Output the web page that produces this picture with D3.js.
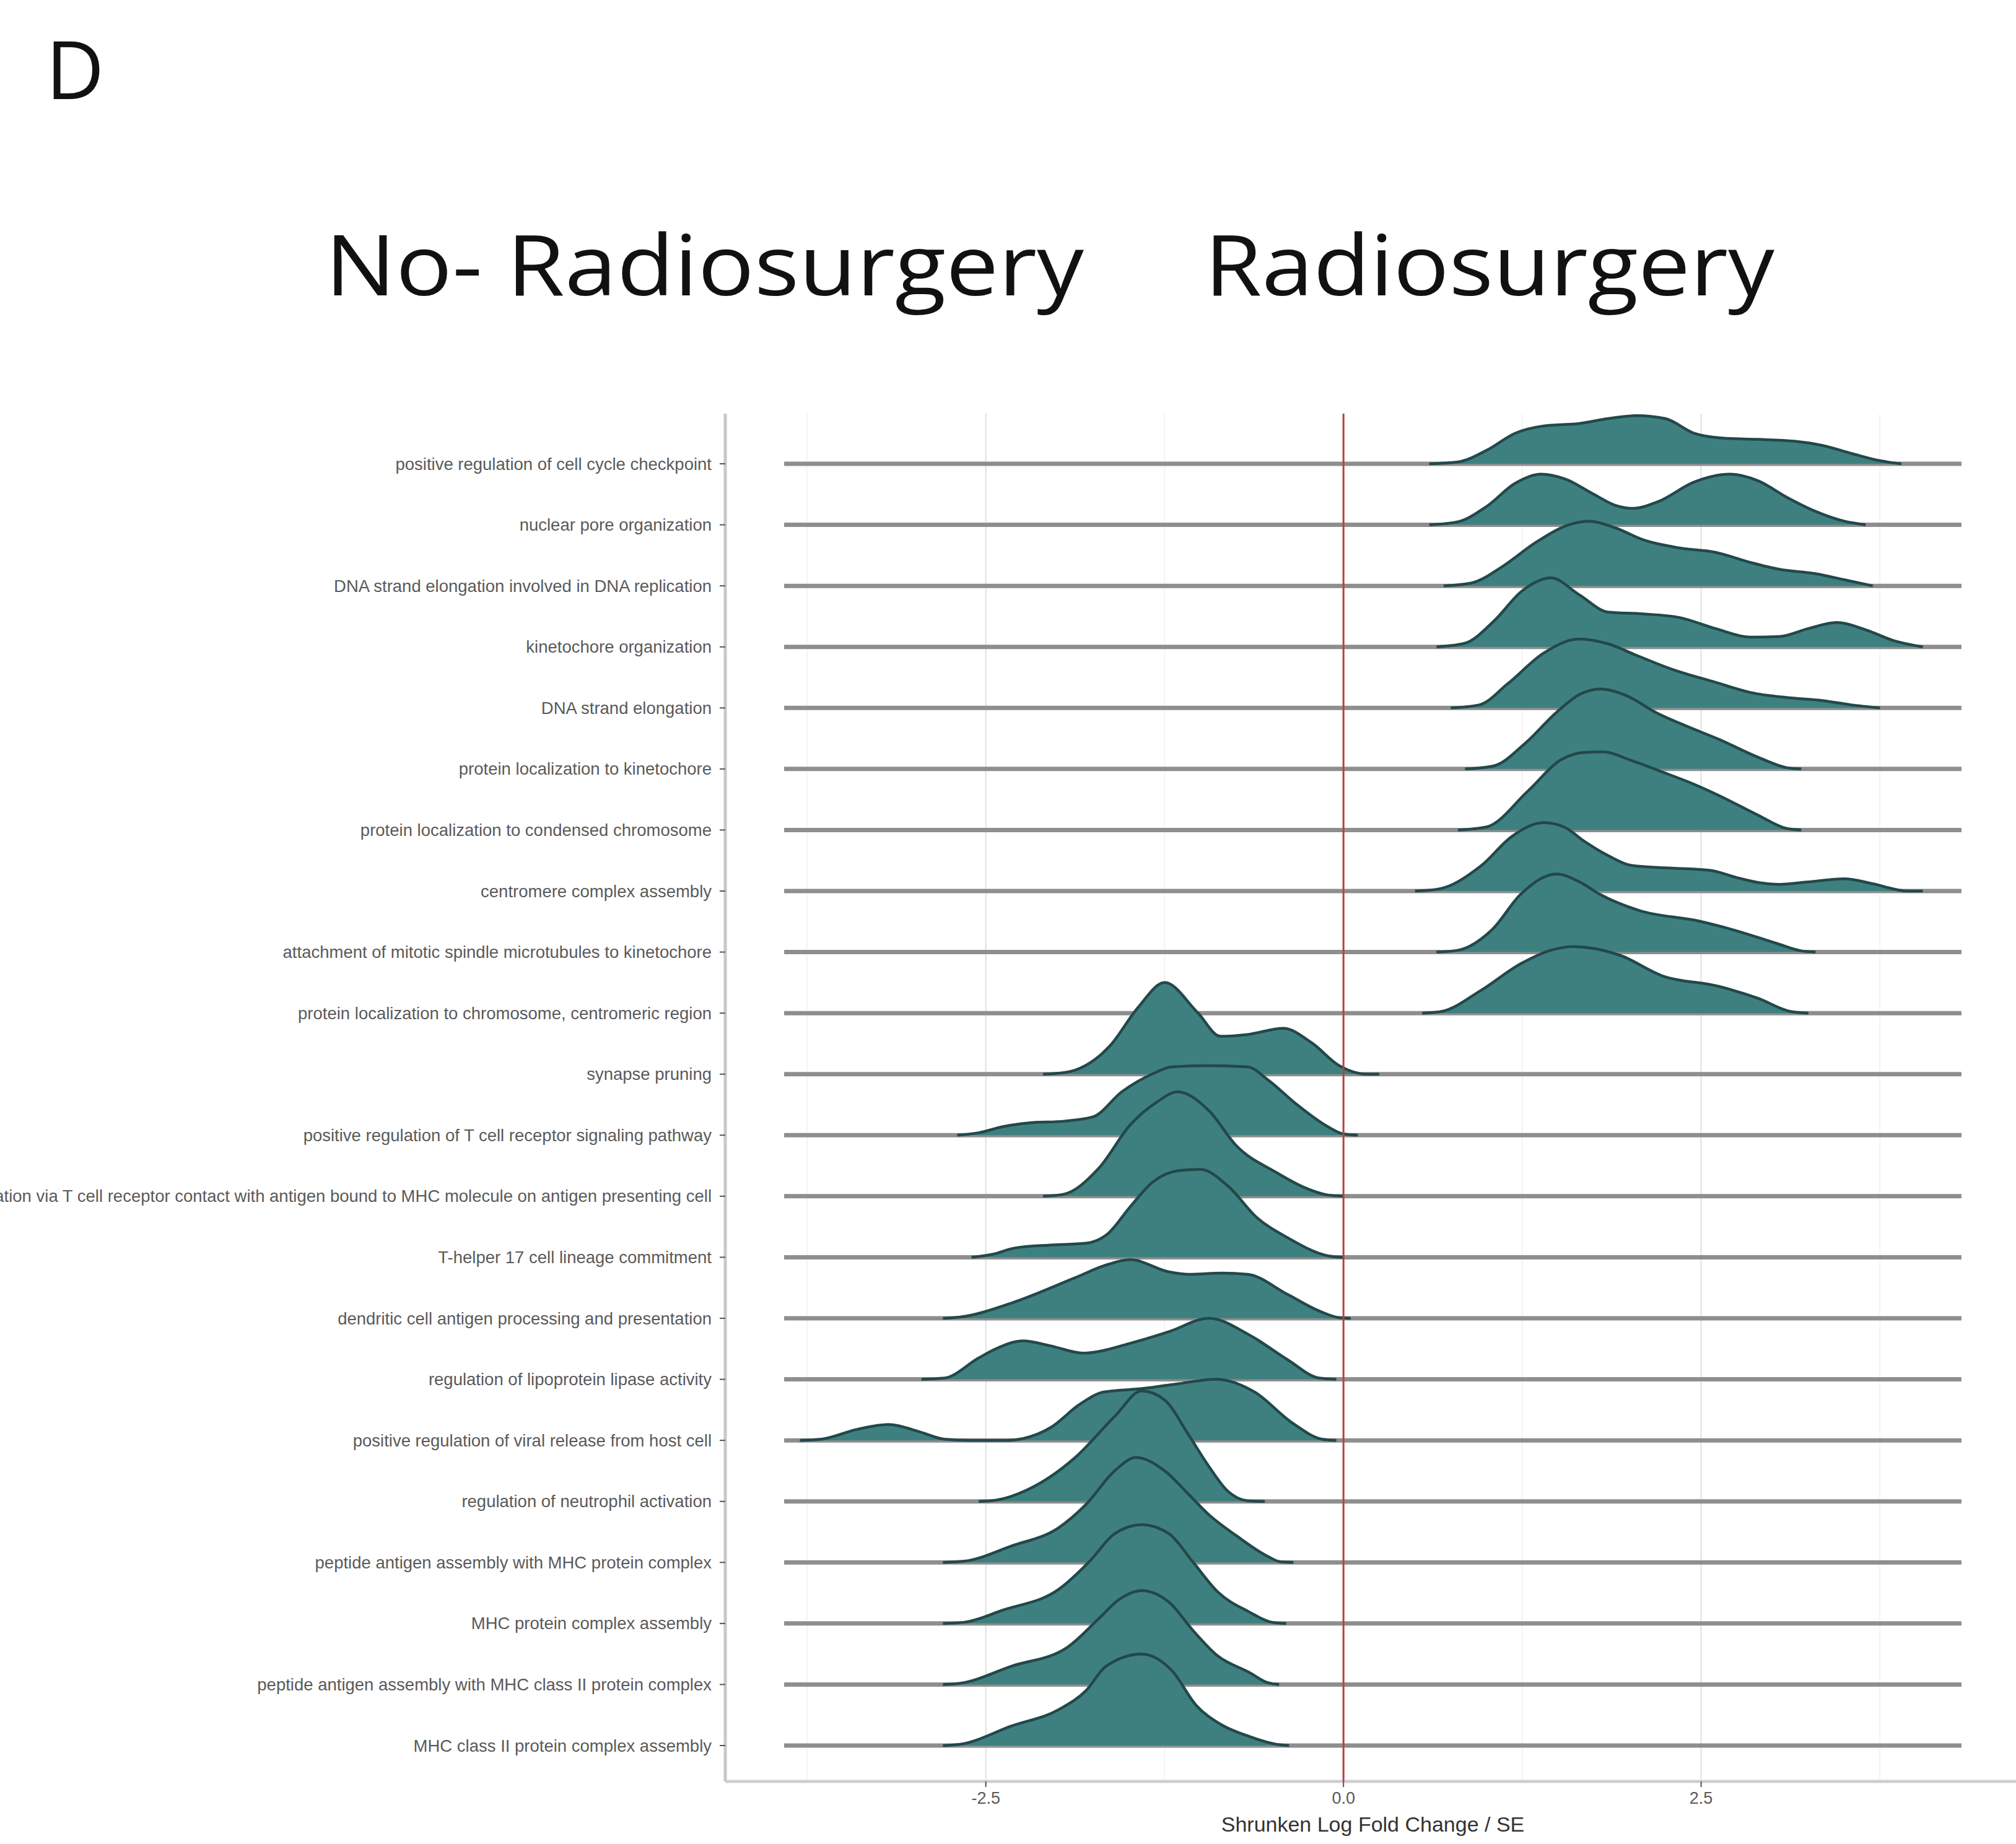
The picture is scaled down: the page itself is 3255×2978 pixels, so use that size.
<!DOCTYPE html>
<meta charset="utf-8">
<div id="chart"></div>
<style>
body { margin: 0; background: #fff; }
</style>
<script src="https://d3js.org/d3.v7.min.js"></script>
<script>
// GO terms, top to bottom
var terms = [
  "positive regulation of cell cycle checkpoint",
  "nuclear pore organization",
  "DNA strand elongation involved in DNA replication",
  "kinetochore organization",
  "DNA strand elongation",
  "protein localization to kinetochore",
  "protein localization to condensed chromosome",
  "centromere complex assembly",
  "attachment of mitotic spindle microtubules to kinetochore",
  "protein localization to chromosome, centromeric region",
  "synapse pruning",
  "positive regulation of T cell receptor signaling pathway",
  "T cell activation via T cell receptor contact with antigen bound to MHC molecule on antigen presenting cell",
  "T-helper 17 cell lineage commitment",
  "dendritic cell antigen processing and presentation",
  "regulation of lipoprotein lipase activity",
  "positive regulation of viral release from host cell",
  "regulation of neutrophil activation",
  "peptide antigen assembly with MHC protein complex",
  "MHC protein complex assembly",
  "peptide antigen assembly with MHC class II protein complex",
  "MHC class II protein complex assembly"
];

// ridge profiles: [x, height in row units]
var densities = [
  [[0.6,0],[0.8,0.03],[1.0,0.22],[1.2,0.5],[1.4,0.62],[1.65,0.66],[1.85,0.74],[2.05,0.79],[2.25,0.74],[2.45,0.5],[2.65,0.42],[2.9,0.4],[3.15,0.37],[3.35,0.3],[3.55,0.17],[3.75,0.05],[3.9,0]],
  [[0.6,0],[0.8,0.05],[1.0,0.3],[1.2,0.68],[1.38,0.83],[1.55,0.75],[1.75,0.5],[1.9,0.32],[2.02,0.27],[2.2,0.38],[2.45,0.7],[2.7,0.83],[2.9,0.72],[3.1,0.45],[3.3,0.22],[3.5,0.06],[3.65,0]],
  [[0.7,0],[0.9,0.05],[1.1,0.3],[1.35,0.72],[1.55,0.98],[1.72,1.06],[1.9,0.95],[2.1,0.75],[2.35,0.62],[2.6,0.55],[2.85,0.38],[3.05,0.27],[3.3,0.2],[3.5,0.1],[3.7,0]],
  [[0.65,0],[0.85,0.06],[1.05,0.42],[1.25,0.92],[1.45,1.13],[1.65,0.85],[1.85,0.57],[2.1,0.54],[2.35,0.48],[2.6,0.3],[2.85,0.16],[3.05,0.17],[3.25,0.3],[3.45,0.4],[3.65,0.28],[3.85,0.1],[4.05,0]],
  [[0.75,0],[0.95,0.05],[1.15,0.4],[1.4,0.9],[1.65,1.13],[1.85,1.05],[2.05,0.86],[2.3,0.63],[2.6,0.42],[2.85,0.25],[3.1,0.17],[3.35,0.12],[3.55,0.05],[3.75,0]],
  [[0.85,0],[1.05,0.05],[1.27,0.42],[1.49,0.93],[1.65,1.22],[1.8,1.31],[1.98,1.2],[2.18,0.93],[2.4,0.7],[2.62,0.49],[2.9,0.19],[3.1,0.02],[3.2,0]],
  [[0.8,0],[1.0,0.05],[1.29,0.64],[1.52,1.15],[1.68,1.27],[1.82,1.28],[2.0,1.15],[2.23,0.95],[2.45,0.75],[2.62,0.57],[2.9,0.24],[3.09,0.03],[3.2,0]],
  [[0.5,0],[0.66,0.03],[0.96,0.41],[1.18,0.9],[1.4,1.12],[1.55,1.04],[1.68,0.82],[1.85,0.58],[2.01,0.42],[2.25,0.38],[2.56,0.34],[2.75,0.22],[2.9,0.14],[3.05,0.11],[3.25,0.15],[3.5,0.2],[3.7,0.12],[3.94,0],[4.05,0]],
  [[0.65,0],[0.8,0.03],[1.04,0.37],[1.24,0.95],[1.49,1.28],[1.65,1.15],[1.79,0.95],[2.07,0.68],[2.48,0.51],[2.76,0.34],[3.03,0.14],[3.2,0.02],[3.3,0]],
  [[0.55,0],[0.69,0.03],[0.96,0.37],[1.24,0.81],[1.45,1.03],[1.6,1.09],[1.93,0.95],[2.23,0.61],[2.62,0.44],[2.9,0.24],[3.12,0.03],[3.25,0]],
  [[-2.1,0],[-1.94,0.03],[-1.63,0.47],[-1.44,1.08],[-1.25,1.5],[-1.02,1.01],[-0.86,0.62],[-0.67,0.65],[-0.42,0.75],[-0.22,0.51],[-0.03,0.14],[0.16,0],[0.25,0]],
  [[-2.7,0],[-2.55,0.04],[-2.38,0.14],[-2.2,0.2],[-1.95,0.23],[-1.75,0.3],[-1.55,0.71],[-1.33,1.01],[-1.2,1.12],[-0.95,1.14],[-0.67,1.12],[-0.53,0.91],[-0.33,0.51],[-0.11,0.14],[0.0,0.02],[0.1,0]],
  [[-2.1,0],[-1.96,0.03],[-1.71,0.46],[-1.49,1.17],[-1.3,1.55],[-1.16,1.71],[-0.94,1.4],[-0.75,0.83],[-0.47,0.39],[-0.28,0.15],[-0.11,0.02],[0,0]],
  [[-2.6,0],[-2.45,0.05],[-2.3,0.15],[-2.05,0.2],[-1.8,0.23],[-1.65,0.38],[-1.49,0.83],[-1.33,1.24],[-1.15,1.42],[-1.0,1.44],[-0.8,1.15],[-0.61,0.66],[-0.39,0.32],[-0.1,0.02],[0.0,0]],
  [[-2.8,0],[-2.68,0.02],[-2.32,0.25],[-1.88,0.66],[-1.65,0.88],[-1.49,0.96],[-1.22,0.76],[-1.08,0.72],[-0.85,0.74],[-0.67,0.72],[-0.39,0.39],[-0.17,0.12],[-0.03,0.01],[0.05,0]],
  [[-2.95,0],[-2.79,0.02],[-2.55,0.35],[-2.43,0.5],[-2.24,0.63],[-2.05,0.55],[-1.82,0.43],[-1.49,0.59],[-1.22,0.78],[-0.94,1.0],[-0.66,0.73],[-0.39,0.32],[-0.17,0.02],[-0.05,0]],
  [[-3.8,0],[-3.65,0.02],[-3.4,0.18],[-3.18,0.26],[-2.95,0.13],[-2.79,0.02],[-2.6,0],[-2.35,0],[-2.24,0.03],[-2.04,0.22],[-1.85,0.58],[-1.68,0.79],[-1.4,0.85],[-1.15,0.93],[-0.89,1.0],[-0.62,0.79],[-0.36,0.29],[-0.15,0.02],[-0.05,0]],
  [[-2.55,0],[-2.43,0.02],[-2.21,0.19],[-1.88,0.71],[-1.6,1.39],[-1.41,1.81],[-1.25,1.66],[-1.08,1.08],[-0.94,0.57],[-0.81,0.17],[-0.67,0.01],[-0.55,0]],
  [[-2.8,0],[-2.65,0.02],[-2.32,0.27],[-1.99,0.57],[-1.8,0.95],[-1.6,1.5],[-1.45,1.72],[-1.25,1.5],[-1.08,1.11],[-0.94,0.78],[-0.75,0.44],[-0.53,0.1],[-0.44,0.01],[-0.35,0]],
  [[-2.8,0],[-2.65,0.02],[-2.38,0.22],[-1.99,0.56],[-1.77,1.03],[-1.6,1.47],[-1.41,1.62],[-1.22,1.47],[-1.05,1.0],[-0.88,0.52],[-0.66,0.19],[-0.5,0.02],[-0.4,0]],
  [[-2.8,0],[-2.68,0.02],[-2.32,0.3],[-1.93,0.61],[-1.71,1.08],[-1.57,1.39],[-1.41,1.54],[-1.22,1.35],[-1.05,0.88],[-0.88,0.47],[-0.66,0.2],[-0.53,0.03],[-0.45,0]],
  [[-2.8,0],[-2.68,0.02],[-2.32,0.32],[-1.99,0.59],[-1.8,0.9],[-1.66,1.3],[-1.41,1.5],[-1.2,1.23],[-1.03,0.66],[-0.86,0.35],[-0.66,0.15],[-0.47,0.02],[-0.38,0]]
];

var dataRange = [-3.91, 4.32];
var xTicks = [-2.5, 0, 2.5];
var xTickLabels = ["-2.5", "0.0", "2.5"];
var xMinor = [-3.75, -1.25, 1.25, 3.75];
var groupTitles = ["No- Radiosurgery", "Radiosurgery"];

var W = 3255, H = 2978;
var panel = {left: 1171, right: 3262, top: 668, bottom: 2877};
var fillColor = "#3e8080";

var svg = d3.select("#chart")
  .append("svg")
    .attr("width", W)
    .attr("height", H)
    .style("display", "block");

svg.append("rect").attr("width", W).attr("height", H).attr("fill", "#fff");

var pad = (dataRange[1] - dataRange[0]) * 0.05;
var x = d3.scaleLinear()
  .domain([dataRange[0] - pad, dataRange[1] + pad])
  .range([panel.left, panel.right]);

var y = d3.scalePoint()
  .domain(terms)
  .range([749, 2819]);

var h = d3.scaleLinear()
  .domain([0, 1])
  .range([0, y.step()]);

// grid
svg.selectAll(".minor").data(xMinor).enter().append("line")
  .attr("x1", x).attr("x2", x)
  .attr("y1", panel.top).attr("y2", panel.bottom)
  .attr("stroke", "#f0f0f0").attr("stroke-width", 1.5);
svg.selectAll(".major").data(xTicks).enter().append("line")
  .attr("x1", x).attr("x2", x)
  .attr("y1", panel.top).attr("y2", panel.bottom)
  .attr("stroke", "#e6e6e6").attr("stroke-width", 2.5);

// axis lines
svg.append("line")
  .attr("x1", panel.left).attr("x2", panel.left)
  .attr("y1", panel.top).attr("y2", panel.bottom)
  .attr("stroke", "#c8c8c8").attr("stroke-width", 5);
svg.append("line")
  .attr("x1", panel.left).attr("x2", W)
  .attr("y1", panel.bottom).attr("y2", panel.bottom)
  .attr("stroke", "#cfcfcf").attr("stroke-width", 5);

// ridges, drawn top to bottom so lower rows overlap upper ones
terms.forEach(function(t, i) {
  var base = y(t);
  var g = svg.append("g").attr("class", "ridge");

  g.append("line")
    .attr("x1", x(dataRange[0])).attr("x2", x(dataRange[1]))
    .attr("y1", base).attr("y2", base)
    .attr("stroke", "#8e8e8e").attr("stroke-width", 7);

  var area = d3.area()
    .x(function(d) { return x(d[0]); })
    .y0(base)
    .y1(function(d) { return base - h(d[1]); })
    .curve(d3.curveMonotoneX);

  var line = d3.line()
    .x(function(d) { return x(d[0]); })
    .y(function(d) { return base - h(d[1]); })
    .curve(d3.curveMonotoneX);

  g.append("path")
    .attr("d", area(densities[i]))
    .attr("fill", fillColor);

  g.append("path")
    .attr("d", line(densities[i]))
    .attr("fill", "none")
    .attr("stroke", "#23484a")
    .attr("stroke-width", 4.5)
    .attr("stroke-linejoin", "round");
});

// zero line
svg.append("line")
  .attr("x1", x(0)).attr("x2", x(0))
  .attr("y1", panel.top).attr("y2", panel.bottom)
  .attr("stroke", "#b3423f").attr("stroke-width", 3);

// y axis ticks + labels
svg.selectAll(".ytick").data(terms).enter().append("line")
  .attr("x1", panel.left - 9).attr("x2", panel.left)
  .attr("y1", y).attr("y2", y)
  .attr("stroke", "#555").attr("stroke-width", 2);

svg.selectAll(".ylab").data(terms).enter().append("text")
  .attr("x", panel.left - 22)
  .attr("y", y)
  .attr("text-anchor", "end")
  .attr("dominant-baseline", "central")
  .style("font-family", "'Liberation Sans', Arial, sans-serif")
  .style("font-size", "27.5px")
  .style("fill", "#5a5a5a")
  .text(function(d) { return d; });

// x axis
svg.selectAll(".xtick").data(xTicks).enter().append("line")
  .attr("x1", x).attr("x2", x)
  .attr("y1", panel.bottom).attr("y2", panel.bottom + 9)
  .attr("stroke", "#555").attr("stroke-width", 2);

svg.selectAll(".xlab").data(xTicks).enter().append("text")
  .attr("x", x)
  .attr("y", panel.bottom + 27)
  .attr("text-anchor", "middle")
  .attr("dominant-baseline", "central")
  .style("font-family", "'Liberation Sans', Arial, sans-serif")
  .style("font-size", "27px")
  .style("fill", "#5a5a5a")
  .text(function(d, i) { return xTickLabels[i]; });

svg.append("text")
  .attr("x", (panel.left + panel.right) / 2)
  .attr("y", 2946)
  .attr("text-anchor", "middle")
  .attr("dominant-baseline", "central")
  .style("font-family", "'Liberation Sans', Arial, sans-serif")
  .style("font-size", "34px")
  .style("fill", "#333")
  .text("Shrunken Log Fold Change / SE");

// headings
svg.append("text")
  .attr("x", 74).attr("y", 160)
  .style("font-family", "'Open Sans', Lato, sans-serif")
  .style("font-size", "130px")
  .style("fill", "#111")
  .text("D");

svg.selectAll(".group").data(groupTitles).enter().append("text")
  .attr("x", function(d, i) { return i === 0 ? 525 : 1945; })
  .attr("y", 477)
  .attr("textLength", function(d, i) { return i === 0 ? 1225 : 920; })
  .attr("lengthAdjust", "spacingAndGlyphs")
  .style("font-family", "'Open Sans', Lato, sans-serif")
  .style("font-size", "136px")
  .style("fill", "#111")
  .text(function(d) { return d; });
</script>
